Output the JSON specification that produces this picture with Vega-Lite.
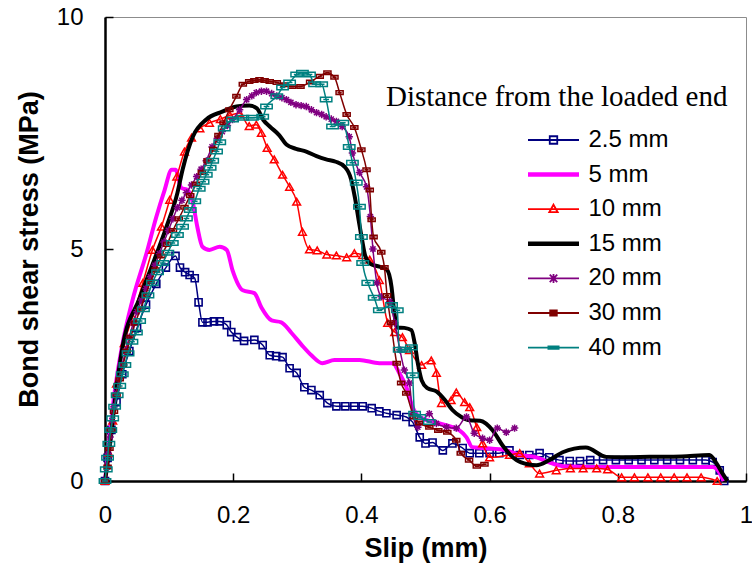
{
"$schema": "https://vega.github.io/schema/vega-lite/v6.json",
"width": 641, "height": 464,
"autosize": {"type": "none"},
"padding": {"left": 105, "top": 17, "right": 6, "bottom": 88},
"background": "white",
"config": {"view": {"stroke": "#8c8c8c", "strokeWidth": 1}, "font": "Liberation Sans"},
"datasets": {
"d": [
{"s":"2.5 mm","x":0,"y":0},{"s":"2.5 mm","x":0.004,"y":0.5},{"s":"2.5 mm","x":0.01,"y":1.1},{"s":"2.5 mm","x":0.018,"y":1.7},{"s":"2.5 mm","x":0.027,"y":2.3},{"s":"2.5 mm","x":0.038,"y":2.8},{"s":"2.5 mm","x":0.05,"y":3.3},{"s":"2.5 mm","x":0.064,"y":3.8},{"s":"2.5 mm","x":0.08,"y":4.25},{"s":"2.5 mm","x":0.095,"y":4.6},{"s":"2.5 mm","x":0.11,"y":4.85},{"s":"2.5 mm","x":0.117,"y":4.6},{"s":"2.5 mm","x":0.125,"y":4.5},{"s":"2.5 mm","x":0.132,"y":4.44},{"s":"2.5 mm","x":0.14,"y":4.37},{"s":"2.5 mm","x":0.146,"y":3.85},{"s":"2.5 mm","x":0.152,"y":3.42},{"s":"2.5 mm","x":0.16,"y":3.42},{"s":"2.5 mm","x":0.17,"y":3.44},{"s":"2.5 mm","x":0.179,"y":3.44},{"s":"2.5 mm","x":0.19,"y":3.36},{"s":"2.5 mm","x":0.197,"y":3.21},{"s":"2.5 mm","x":0.206,"y":3.1},{"s":"2.5 mm","x":0.217,"y":3.02},{"s":"2.5 mm","x":0.233,"y":3.04},{"s":"2.5 mm","x":0.246,"y":2.93},{"s":"2.5 mm","x":0.257,"y":2.71},{"s":"2.5 mm","x":0.267,"y":2.69},{"s":"2.5 mm","x":0.277,"y":2.67},{"s":"2.5 mm","x":0.288,"y":2.43},{"s":"2.5 mm","x":0.299,"y":2.33},{"s":"2.5 mm","x":0.311,"y":2.02},{"s":"2.5 mm","x":0.322,"y":1.96},{"s":"2.5 mm","x":0.335,"y":1.85},{"s":"2.5 mm","x":0.347,"y":1.68},{"s":"2.5 mm","x":0.361,"y":1.61},{"s":"2.5 mm","x":0.375,"y":1.61},{"s":"2.5 mm","x":0.389,"y":1.61},{"s":"2.5 mm","x":0.402,"y":1.61},{"s":"2.5 mm","x":0.416,"y":1.57},{"s":"2.5 mm","x":0.428,"y":1.5},{"s":"2.5 mm","x":0.439,"y":1.46},{"s":"2.5 mm","x":0.455,"y":1.42},{"s":"2.5 mm","x":0.47,"y":1.38},{"s":"2.5 mm","x":0.48,"y":1.27},{"s":"2.5 mm","x":0.491,"y":0.94},{"s":"2.5 mm","x":0.5,"y":0.81},{"s":"2.5 mm","x":0.511,"y":0.83},{"s":"2.5 mm","x":0.527,"y":0.66},{"s":"2.5 mm","x":0.542,"y":0.81},{"s":"2.5 mm","x":0.558,"y":0.71},{"s":"2.5 mm","x":0.569,"y":0.6},{"s":"2.5 mm","x":0.584,"y":0.6},{"s":"2.5 mm","x":0.6,"y":0.6},{"s":"2.5 mm","x":0.615,"y":0.6},{"s":"2.5 mm","x":0.631,"y":0.66},{"s":"2.5 mm","x":0.647,"y":0.56},{"s":"2.5 mm","x":0.662,"y":0.56},{"s":"2.5 mm","x":0.678,"y":0.6},{"s":"2.5 mm","x":0.693,"y":0.51},{"s":"2.5 mm","x":0.709,"y":0.45},{"s":"2.5 mm","x":0.725,"y":0.43},{"s":"2.5 mm","x":0.741,"y":0.43},{"s":"2.5 mm","x":0.757,"y":0.45},{"s":"2.5 mm","x":0.777,"y":0.45},{"s":"2.5 mm","x":0.797,"y":0.45},{"s":"2.5 mm","x":0.817,"y":0.45},{"s":"2.5 mm","x":0.837,"y":0.45},{"s":"2.5 mm","x":0.857,"y":0.45},{"s":"2.5 mm","x":0.877,"y":0.45},{"s":"2.5 mm","x":0.897,"y":0.45},{"s":"2.5 mm","x":0.917,"y":0.45},{"s":"2.5 mm","x":0.937,"y":0.45},{"s":"2.5 mm","x":0.948,"y":0.41},{"s":"2.5 mm","x":0.959,"y":0.23},{"s":"2.5 mm","x":0.966,"y":0},

{"s":"5 mm","x":0,"y":0},{"s":"5 mm","x":0.006,"y":0.8},{"s":"5 mm","x":0.014,"y":1.8},{"s":"5 mm","x":0.026,"y":2.86},{"s":"5 mm","x":0.043,"y":3.9},{"s":"5 mm","x":0.065,"y":4.92},{"s":"5 mm","x":0.08,"y":5.69},{"s":"5 mm","x":0.093,"y":6.27},{"s":"5 mm","x":0.104,"y":6.71},{"s":"5 mm","x":0.11,"y":6.71},{"s":"5 mm","x":0.119,"y":6.32},{"s":"5 mm","x":0.129,"y":6.27},{"s":"5 mm","x":0.137,"y":6.0},{"s":"5 mm","x":0.144,"y":5.48},{"s":"5 mm","x":0.152,"y":5.05},{"s":"5 mm","x":0.163,"y":4.98},{"s":"5 mm","x":0.179,"y":5.05},{"s":"5 mm","x":0.19,"y":4.98},{"s":"5 mm","x":0.199,"y":4.54},{"s":"5 mm","x":0.215,"y":4.11},{"s":"5 mm","x":0.233,"y":4.05},{"s":"5 mm","x":0.244,"y":3.74},{"s":"5 mm","x":0.26,"y":3.46},{"s":"5 mm","x":0.275,"y":3.42},{"s":"5 mm","x":0.291,"y":3.19},{"s":"5 mm","x":0.307,"y":2.93},{"s":"5 mm","x":0.322,"y":2.71},{"s":"5 mm","x":0.339,"y":2.54},{"s":"5 mm","x":0.358,"y":2.61},{"s":"5 mm","x":0.397,"y":2.61},{"s":"5 mm","x":0.428,"y":2.54},{"s":"5 mm","x":0.449,"y":2.54},{"s":"5 mm","x":0.459,"y":2.33},{"s":"5 mm","x":0.47,"y":2.03},{"s":"5 mm","x":0.48,"y":1.59},{"s":"5 mm","x":0.491,"y":1.38},{"s":"5 mm","x":0.522,"y":1.24},{"s":"5 mm","x":0.553,"y":1.09},{"s":"5 mm","x":0.564,"y":0.94},{"s":"5 mm","x":0.573,"y":0.73},{"s":"5 mm","x":0.589,"y":0.71},{"s":"5 mm","x":0.626,"y":0.66},{"s":"5 mm","x":0.647,"y":0.56},{"s":"5 mm","x":0.673,"y":0.51},{"s":"5 mm","x":0.693,"y":0.4},{"s":"5 mm","x":0.714,"y":0.32},{"s":"5 mm","x":0.8,"y":0.3},{"s":"5 mm","x":0.9,"y":0.3},{"s":"5 mm","x":0.948,"y":0.3},{"s":"5 mm","x":0.959,"y":0.17},{"s":"5 mm","x":0.965,"y":0},

{"s":"10 mm","x":0,"y":0},{"s":"10 mm","x":0.006,"y":0.6},{"s":"10 mm","x":0.012,"y":1.3},{"s":"10 mm","x":0.018,"y":2.1},{"s":"10 mm","x":0.03,"y":2.97},{"s":"10 mm","x":0.043,"y":3.53},{"s":"10 mm","x":0.059,"y":4.27},{"s":"10 mm","x":0.074,"y":4.98},{"s":"10 mm","x":0.088,"y":5.48},{"s":"10 mm","x":0.101,"y":6.06},{"s":"10 mm","x":0.112,"y":6.56},{"s":"10 mm","x":0.124,"y":7.1},{"s":"10 mm","x":0.135,"y":7.4},{"s":"10 mm","x":0.148,"y":7.6},{"s":"10 mm","x":0.163,"y":7.72},{"s":"10 mm","x":0.18,"y":7.8},{"s":"10 mm","x":0.195,"y":7.88},{"s":"10 mm","x":0.21,"y":7.93},{"s":"10 mm","x":0.225,"y":7.65},{"s":"10 mm","x":0.236,"y":7.68},{"s":"10 mm","x":0.244,"y":7.5},{"s":"10 mm","x":0.253,"y":7.18},{"s":"10 mm","x":0.264,"y":6.93},{"s":"10 mm","x":0.277,"y":6.6},{"s":"10 mm","x":0.288,"y":6.34},{"s":"10 mm","x":0.299,"y":6.02},{"s":"10 mm","x":0.308,"y":5.37},{"s":"10 mm","x":0.319,"y":4.99},{"s":"10 mm","x":0.331,"y":4.97},{"s":"10 mm","x":0.346,"y":4.88},{"s":"10 mm","x":0.361,"y":4.86},{"s":"10 mm","x":0.377,"y":4.82},{"s":"10 mm","x":0.389,"y":4.91},{"s":"10 mm","x":0.402,"y":4.87},{"s":"10 mm","x":0.413,"y":4.77},{"s":"10 mm","x":0.428,"y":4.33},{"s":"10 mm","x":0.441,"y":3.41},{"s":"10 mm","x":0.452,"y":3.21},{"s":"10 mm","x":0.464,"y":3.1},{"s":"10 mm","x":0.475,"y":2.82},{"s":"10 mm","x":0.494,"y":2.5},{"s":"10 mm","x":0.509,"y":2.6},{"s":"10 mm","x":0.517,"y":2.33},{"s":"10 mm","x":0.525,"y":1.68},{"s":"10 mm","x":0.54,"y":1.74},{"s":"10 mm","x":0.548,"y":1.91},{"s":"10 mm","x":0.561,"y":1.7},{"s":"10 mm","x":0.569,"y":1.59},{"s":"10 mm","x":0.58,"y":1.16},{"s":"10 mm","x":0.589,"y":0.81},{"s":"10 mm","x":0.6,"y":0.51},{"s":"10 mm","x":0.631,"y":0.56},{"s":"10 mm","x":0.647,"y":0.6},{"s":"10 mm","x":0.662,"y":0.38},{"s":"10 mm","x":0.678,"y":0.16},{"s":"10 mm","x":0.704,"y":0.23},{"s":"10 mm","x":0.726,"y":0.27},{"s":"10 mm","x":0.746,"y":0.27},{"s":"10 mm","x":0.767,"y":0.27},{"s":"10 mm","x":0.784,"y":0.25},{"s":"10 mm","x":0.806,"y":0.08},{"s":"10 mm","x":0.826,"y":0.08},{"s":"10 mm","x":0.847,"y":0.08},{"s":"10 mm","x":0.867,"y":0.08},{"s":"10 mm","x":0.888,"y":0.08},{"s":"10 mm","x":0.908,"y":0.08},{"s":"10 mm","x":0.93,"y":0.08},{"s":"10 mm","x":0.955,"y":0},

{"s":"15 mm","x":0,"y":0},{"s":"15 mm","x":0.008,"y":0.8},{"s":"15 mm","x":0.016,"y":1.8},{"s":"15 mm","x":0.027,"y":2.86},{"s":"15 mm","x":0.054,"y":3.94},{"s":"15 mm","x":0.077,"y":4.77},{"s":"15 mm","x":0.096,"y":5.48},{"s":"15 mm","x":0.113,"y":6.21},{"s":"15 mm","x":0.121,"y":6.71},{"s":"15 mm","x":0.137,"y":7.42},{"s":"15 mm","x":0.158,"y":7.79},{"s":"15 mm","x":0.183,"y":7.96},{"s":"15 mm","x":0.205,"y":8.07},{"s":"15 mm","x":0.225,"y":8.09},{"s":"15 mm","x":0.237,"y":8.03},{"s":"15 mm","x":0.247,"y":7.78},{"s":"15 mm","x":0.257,"y":7.64},{"s":"15 mm","x":0.272,"y":7.45},{"s":"15 mm","x":0.283,"y":7.25},{"s":"15 mm","x":0.298,"y":7.16},{"s":"15 mm","x":0.314,"y":7.1},{"s":"15 mm","x":0.33,"y":7.0},{"s":"15 mm","x":0.345,"y":6.93},{"s":"15 mm","x":0.36,"y":6.88},{"s":"15 mm","x":0.374,"y":6.77},{"s":"15 mm","x":0.384,"y":6.5},{"s":"15 mm","x":0.39,"y":6.1},{"s":"15 mm","x":0.396,"y":5.6},{"s":"15 mm","x":0.401,"y":5.2},{"s":"15 mm","x":0.406,"y":4.85},{"s":"15 mm","x":0.414,"y":4.68},{"s":"15 mm","x":0.428,"y":4.62},{"s":"15 mm","x":0.44,"y":4.55},{"s":"15 mm","x":0.447,"y":4.18},{"s":"15 mm","x":0.451,"y":3.67},{"s":"15 mm","x":0.456,"y":3.31},{"s":"15 mm","x":0.467,"y":3.3},{"s":"15 mm","x":0.478,"y":3.25},{"s":"15 mm","x":0.483,"y":2.98},{"s":"15 mm","x":0.488,"y":2.54},{"s":"15 mm","x":0.494,"y":2.17},{"s":"15 mm","x":0.503,"y":2.0},{"s":"15 mm","x":0.517,"y":1.93},{"s":"15 mm","x":0.53,"y":1.75},{"s":"15 mm","x":0.542,"y":1.53},{"s":"15 mm","x":0.556,"y":1.38},{"s":"15 mm","x":0.569,"y":1.31},{"s":"15 mm","x":0.585,"y":1.3},{"s":"15 mm","x":0.605,"y":1.09},{"s":"15 mm","x":0.62,"y":0.77},{"s":"15 mm","x":0.642,"y":0.45},{"s":"15 mm","x":0.66,"y":0.36},{"s":"15 mm","x":0.673,"y":0.34},{"s":"15 mm","x":0.693,"y":0.45},{"s":"15 mm","x":0.714,"y":0.62},{"s":"15 mm","x":0.75,"y":0.72},{"s":"15 mm","x":0.782,"y":0.52},{"s":"15 mm","x":0.807,"y":0.51},{"s":"15 mm","x":0.85,"y":0.52},{"s":"15 mm","x":0.9,"y":0.53},{"s":"15 mm","x":0.943,"y":0.56},{"s":"15 mm","x":0.954,"y":0.38},{"s":"15 mm","x":0.963,"y":0.17},{"s":"15 mm","x":0.971,"y":0},

{"s":"20 mm","x":0,"y":0},{"s":"20 mm","x":0.003,"y":0.3},{"s":"20 mm","x":0.005,"y":0.6},{"s":"20 mm","x":0.008,"y":0.95},{"s":"20 mm","x":0.011,"y":1.3},{"s":"20 mm","x":0.014,"y":1.6},{"s":"20 mm","x":0.018,"y":1.9},{"s":"20 mm","x":0.022,"y":2.2},{"s":"20 mm","x":0.027,"y":2.5},{"s":"20 mm","x":0.032,"y":2.8},{"s":"20 mm","x":0.038,"y":3.1},{"s":"20 mm","x":0.044,"y":3.4},{"s":"20 mm","x":0.05,"y":3.65},{"s":"20 mm","x":0.057,"y":3.9},{"s":"20 mm","x":0.064,"y":4.15},{"s":"20 mm","x":0.071,"y":4.4},{"s":"20 mm","x":0.078,"y":4.65},{"s":"20 mm","x":0.085,"y":4.9},{"s":"20 mm","x":0.092,"y":5.15},{"s":"20 mm","x":0.099,"y":5.4},{"s":"20 mm","x":0.106,"y":5.65},{"s":"20 mm","x":0.113,"y":5.89},{"s":"20 mm","x":0.12,"y":6.05},{"s":"20 mm","x":0.127,"y":6.21},{"s":"20 mm","x":0.135,"y":6.38},{"s":"20 mm","x":0.143,"y":6.56},{"s":"20 mm","x":0.15,"y":6.72},{"s":"20 mm","x":0.158,"y":6.9},{"s":"20 mm","x":0.167,"y":7.2},{"s":"20 mm","x":0.175,"y":7.38},{"s":"20 mm","x":0.183,"y":7.53},{"s":"20 mm","x":0.191,"y":7.66},{"s":"20 mm","x":0.199,"y":7.79},{"s":"20 mm","x":0.21,"y":8.0},{"s":"20 mm","x":0.221,"y":8.22},{"s":"20 mm","x":0.229,"y":8.3},{"s":"20 mm","x":0.236,"y":8.37},{"s":"20 mm","x":0.244,"y":8.4},{"s":"20 mm","x":0.252,"y":8.4},{"s":"20 mm","x":0.26,"y":8.35},{"s":"20 mm","x":0.268,"y":8.3},{"s":"20 mm","x":0.276,"y":8.26},{"s":"20 mm","x":0.283,"y":8.22},{"s":"20 mm","x":0.29,"y":8.16},{"s":"20 mm","x":0.298,"y":8.11},{"s":"20 mm","x":0.306,"y":8.09},{"s":"20 mm","x":0.314,"y":8.07},{"s":"20 mm","x":0.322,"y":8.0},{"s":"20 mm","x":0.33,"y":7.94},{"s":"20 mm","x":0.338,"y":7.9},{"s":"20 mm","x":0.345,"y":7.85},{"s":"20 mm","x":0.353,"y":7.8},{"s":"20 mm","x":0.361,"y":7.75},{"s":"20 mm","x":0.37,"y":7.64},{"s":"20 mm","x":0.381,"y":7.42},{"s":"20 mm","x":0.386,"y":7.07},{"s":"20 mm","x":0.397,"y":6.65},{"s":"20 mm","x":0.408,"y":6.34},{"s":"20 mm","x":0.414,"y":5.7},{"s":"20 mm","x":0.418,"y":5.0},{"s":"20 mm","x":0.424,"y":4.27},{"s":"20 mm","x":0.431,"y":3.97},{"s":"20 mm","x":0.444,"y":3.87},{"s":"20 mm","x":0.452,"y":3.41},{"s":"20 mm","x":0.46,"y":2.83},{"s":"20 mm","x":0.467,"y":2.39},{"s":"20 mm","x":0.475,"y":2.11},{"s":"20 mm","x":0.48,"y":1.45},{"s":"20 mm","x":0.488,"y":1.16},{"s":"20 mm","x":0.506,"y":1.45},{"s":"20 mm","x":0.517,"y":1.24},{"s":"20 mm","x":0.533,"y":1.16},{"s":"20 mm","x":0.548,"y":1.14},{"s":"20 mm","x":0.564,"y":1.38},{"s":"20 mm","x":0.576,"y":1.03},{"s":"20 mm","x":0.589,"y":0.92},{"s":"20 mm","x":0.6,"y":0.88},{"s":"20 mm","x":0.612,"y":1.14},{"s":"20 mm","x":0.626,"y":1.05},{"s":"20 mm","x":0.639,"y":1.14},

{"s":"30 mm","x":0,"y":0},{"s":"30 mm","x":0.004,"y":0.3},{"s":"30 mm","x":0.007,"y":0.7},{"s":"30 mm","x":0.01,"y":1.1},{"s":"30 mm","x":0.014,"y":1.5},{"s":"30 mm","x":0.018,"y":1.85},{"s":"30 mm","x":0.023,"y":2.2},{"s":"30 mm","x":0.028,"y":2.5},{"s":"30 mm","x":0.034,"y":2.8},{"s":"30 mm","x":0.04,"y":3.1},{"s":"30 mm","x":0.047,"y":3.4},{"s":"30 mm","x":0.055,"y":3.7},{"s":"30 mm","x":0.063,"y":4.0},{"s":"30 mm","x":0.071,"y":4.3},{"s":"30 mm","x":0.079,"y":4.55},{"s":"30 mm","x":0.088,"y":4.85},{"s":"30 mm","x":0.097,"y":5.1},{"s":"30 mm","x":0.106,"y":5.4},{"s":"30 mm","x":0.115,"y":5.65},{"s":"30 mm","x":0.124,"y":5.9},{"s":"30 mm","x":0.133,"y":6.15},{"s":"30 mm","x":0.142,"y":6.4},{"s":"30 mm","x":0.151,"y":6.65},{"s":"30 mm","x":0.16,"y":6.9},{"s":"30 mm","x":0.169,"y":7.15},{"s":"30 mm","x":0.177,"y":7.45},{"s":"30 mm","x":0.185,"y":7.72},{"s":"30 mm","x":0.194,"y":8.0},{"s":"30 mm","x":0.205,"y":8.29},{"s":"30 mm","x":0.215,"y":8.55},{"s":"30 mm","x":0.225,"y":8.61},{"s":"30 mm","x":0.233,"y":8.63},{"s":"30 mm","x":0.241,"y":8.65},{"s":"30 mm","x":0.249,"y":8.63},{"s":"30 mm","x":0.257,"y":8.61},{"s":"30 mm","x":0.268,"y":8.59},{"s":"30 mm","x":0.28,"y":8.54},{"s":"30 mm","x":0.292,"y":8.5},{"s":"30 mm","x":0.305,"y":8.5},{"s":"30 mm","x":0.32,"y":8.6},{"s":"30 mm","x":0.335,"y":8.72},{"s":"30 mm","x":0.347,"y":8.8},{"s":"30 mm","x":0.358,"y":8.7},{"s":"30 mm","x":0.366,"y":8.37},{"s":"30 mm","x":0.377,"y":7.9},{"s":"30 mm","x":0.389,"y":7.62},{"s":"30 mm","x":0.4,"y":7.14},{"s":"30 mm","x":0.408,"y":6.71},{"s":"30 mm","x":0.413,"y":6.27},{"s":"30 mm","x":0.416,"y":5.63},{"s":"30 mm","x":0.419,"y":5.26},{"s":"30 mm","x":0.431,"y":4.93},{"s":"30 mm","x":0.436,"y":4.6},{"s":"30 mm","x":0.44,"y":4.0},{"s":"30 mm","x":0.446,"y":3.41},{"s":"30 mm","x":0.455,"y":2.54},{"s":"30 mm","x":0.462,"y":2.11},{"s":"30 mm","x":0.47,"y":1.89},{"s":"30 mm","x":0.482,"y":1.38},{"s":"30 mm","x":0.49,"y":1.25},{"s":"30 mm","x":0.506,"y":1.16},{"s":"30 mm","x":0.52,"y":1.09},{"s":"30 mm","x":0.534,"y":1.05},{"s":"30 mm","x":0.548,"y":0.88},{"s":"30 mm","x":0.555,"y":0.6},{"s":"30 mm","x":0.568,"y":0.45},{"s":"30 mm","x":0.58,"y":0.32},{"s":"30 mm","x":0.592,"y":0.36},

{"s":"40 mm","x":0,"y":0},{"s":"40 mm","x":0.002,"y":0.25},{"s":"40 mm","x":0.004,"y":0.5},{"s":"40 mm","x":0.006,"y":0.8},{"s":"40 mm","x":0.009,"y":1.1},{"s":"40 mm","x":0.012,"y":1.35},{"s":"40 mm","x":0.015,"y":1.6},{"s":"40 mm","x":0.019,"y":1.85},{"s":"40 mm","x":0.023,"y":2.05},{"s":"40 mm","x":0.027,"y":2.3},{"s":"40 mm","x":0.031,"y":2.5},{"s":"40 mm","x":0.036,"y":2.75},{"s":"40 mm","x":0.042,"y":3.0},{"s":"40 mm","x":0.049,"y":3.2},{"s":"40 mm","x":0.054,"y":3.45},{"s":"40 mm","x":0.06,"y":3.7},{"s":"40 mm","x":0.067,"y":4.0},{"s":"40 mm","x":0.074,"y":4.27},{"s":"40 mm","x":0.082,"y":4.5},{"s":"40 mm","x":0.09,"y":4.7},{"s":"40 mm","x":0.098,"y":4.92},{"s":"40 mm","x":0.105,"y":5.13},{"s":"40 mm","x":0.113,"y":5.3},{"s":"40 mm","x":0.121,"y":5.48},{"s":"40 mm","x":0.127,"y":5.66},{"s":"40 mm","x":0.133,"y":5.84},{"s":"40 mm","x":0.14,"y":6.03},{"s":"40 mm","x":0.147,"y":6.3},{"s":"40 mm","x":0.153,"y":6.45},{"s":"40 mm","x":0.158,"y":6.6},{"s":"40 mm","x":0.164,"y":6.75},{"s":"40 mm","x":0.168,"y":6.9},{"s":"40 mm","x":0.174,"y":7.1},{"s":"40 mm","x":0.179,"y":7.3},{"s":"40 mm","x":0.186,"y":7.6},{"s":"40 mm","x":0.199,"y":7.79},{"s":"40 mm","x":0.215,"y":7.83},{"s":"40 mm","x":0.23,"y":7.83},{"s":"40 mm","x":0.246,"y":7.85},{"s":"40 mm","x":0.252,"y":8.07},{"s":"40 mm","x":0.268,"y":8.29},{"s":"40 mm","x":0.277,"y":8.48},{"s":"40 mm","x":0.288,"y":8.59},{"s":"40 mm","x":0.299,"y":8.76},{"s":"40 mm","x":0.308,"y":8.8},{"s":"40 mm","x":0.319,"y":8.76},{"s":"40 mm","x":0.327,"y":8.55},{"s":"40 mm","x":0.338,"y":8.55},{"s":"40 mm","x":0.345,"y":8.22},{"s":"40 mm","x":0.355,"y":7.64},{"s":"40 mm","x":0.371,"y":7.72},{"s":"40 mm","x":0.381,"y":7.2},{"s":"40 mm","x":0.386,"y":6.86},{"s":"40 mm","x":0.392,"y":6.43},{"s":"40 mm","x":0.397,"y":5.91},{"s":"40 mm","x":0.4,"y":5.26},{"s":"40 mm","x":0.402,"y":4.7},{"s":"40 mm","x":0.41,"y":4.27},{"s":"40 mm","x":0.42,"y":3.95},{"s":"40 mm","x":0.428,"y":3.68},{"s":"40 mm","x":0.447,"y":3.79},{"s":"40 mm","x":0.456,"y":3.68},{"s":"40 mm","x":0.459,"y":2.83},{"s":"40 mm","x":0.467,"y":2.83},{"s":"40 mm","x":0.478,"y":2.88},{"s":"40 mm","x":0.48,"y":2.28},{"s":"40 mm","x":0.483,"y":1.45},{"s":"40 mm","x":0.491,"y":1.38},{"s":"40 mm","x":0.506,"y":1.27}
]
},
"data": {"name": "d"},
"encoding": {
  "x": {"field": "x", "type": "quantitative", "scale": {"domain": [0, 1], "nice": false, "zero": false},
        "axis": {"title": "Slip (mm)", "values": [0, 0.2, 0.4, 0.6, 0.8, 1], "format": "~g", "grid": false,
                 "domainColor": "black", "domainWidth": 2.5, "tickColor": "black", "tickWidth": 1.5, "tickSize": -8,
                 "labelFont": "Liberation Sans", "labelFontSize": 24, "labelColor": "black", "labelPadding": 30,
                 "labelFlush": false, "labelOverlap": false,
                 "titleFont": "Liberation Sans", "titleFontSize": 27, "titleFontWeight": "bold", "titleColor": "black", "titlePadding": 8}},
  "y": {"field": "y", "type": "quantitative", "scale": {"domain": [0, 10], "nice": false, "zero": false},
        "axis": {"title": "Bond shear stress (MPa)", "values": [0, 5, 10], "grid": false,
                 "domainColor": "black", "domainWidth": 2.5, "tickColor": "black", "tickWidth": 1.5, "tickSize": -8,
                 "labelFont": "Liberation Sans", "labelFontSize": 24, "labelColor": "black", "labelPadding": 30,
                 "labelFlush": false, "labelOverlap": false,
                 "titleFont": "Liberation Sans", "titleFontSize": 27, "titleFontWeight": "bold", "titleColor": "black", "titlePadding": 13}},
  "color": {"field": "s", "type": "nominal",
            "scale": {"domain": ["2.5 mm", "5 mm", "10 mm", "15 mm", "20 mm", "30 mm", "40 mm"],
                      "range": ["#000080", "#FF00FF", "#FF0000", "#000000", "#800080", "#800000", "#008080"]},
            "legend": {"orient": "none", "legendX": 281, "legendY": 66, "padding": 0,
                       "title": "Distance from the loaded end", "titleFont": "Liberation Serif", "titleFontSize": 29,
                       "titleFontWeight": "normal", "titleColor": "black", "titlePadding": 16, "titleLimit": 1000,
                       "labelFont": "Liberation Sans", "labelFontSize": 24, "labelColor": "black", "labelLimit": 300,
                       "symbolSize": 900, "symbolOffset": 155.5, "labelOffset": 23, "rowPadding": 10.6,
                       "encode": {"symbols": {"update": {
                         "shape": {"signal": "datum.value === '2.5 mm' ? 'M-1.7,0H1.7M-0.25,-0.25H0.25V0.25H-0.25Z' : datum.value === '10 mm' ? 'M-1.7,0H1.7M0,-0.3L0.28,0.2H-0.28Z' : datum.value === '20 mm' ? 'M-1.7,0H1.7M-0.25,-0.25L0.25,0.25M-0.25,0.25L0.25,-0.25M0,-0.3V0.3' : datum.value === '30 mm' ? 'M-1.7,0H1.7M-0.22,-0.17H0.22V0.17H-0.22ZM-0.22,-0.06H0.22M-0.22,0.06H0.22' : datum.value === '40 mm' ? 'M-1.7,0H1.7M-0.4,-0.08H0.4M-0.4,0.08H0.4' : 'M-1.7,0H1.7'"},
                         "strokeWidth": {"signal": "datum.value === '5 mm' || datum.value === '15 mm' ? 4.5 : 1.8"},
                         "fill": {"value": "transparent"},
                         "stroke": {"scale": "color", "field": "value"},
                         "opacity": {"value": 1}}}}}}
},
"layer": [
  {"transform": [{"filter": "datum.s === '2.5 mm'"}], "mark": {"type": "line", "strokeWidth": 1.5, "interpolate": "monotone"}},
  {"transform": [{"filter": "datum.s === '2.5 mm'"}], "mark": {"type": "point", "shape": "square", "size": 50, "filled": false, "strokeWidth": 1.6, "opacity": 1}},
  {"transform": [{"filter": "datum.s === '5 mm'"}], "mark": {"type": "line", "strokeWidth": 4, "interpolate": "monotone"}},
  {"transform": [{"filter": "datum.s === '10 mm'"}], "mark": {"type": "line", "strokeWidth": 1.5, "interpolate": "monotone"}},
  {"transform": [{"filter": "datum.s === '10 mm'"}], "mark": {"type": "point", "shape": "triangle-up", "size": 60, "filled": false, "strokeWidth": 1.5, "opacity": 1}},
  {"transform": [{"filter": "datum.s === '15 mm'"}], "mark": {"type": "line", "strokeWidth": 4, "interpolate": "monotone"}},
  {"transform": [{"filter": "datum.s === '20 mm'"}], "mark": {"type": "line", "strokeWidth": 1.5, "interpolate": "monotone"}},
  {"transform": [{"filter": "datum.s === '20 mm'"}], "mark": {"type": "point", "shape": "M-1,0H1M0,-1V1M-0.7,-0.7L0.7,0.7M-0.7,0.7L0.7,-0.7", "size": 55, "filled": false, "strokeWidth": 1.5, "opacity": 1}},
  {"transform": [{"filter": "datum.s === '30 mm'"}], "mark": {"type": "line", "strokeWidth": 1.5, "interpolate": "monotone"}},
  {"transform": [{"filter": "datum.s === '30 mm'"}], "mark": {"type": "point", "shape": "M-1,-0.5H1V0.5H-1ZM-0.6,0H0.6", "size": 50, "filled": false, "strokeWidth": 1.5, "opacity": 1}},
  {"transform": [{"filter": "datum.s === '40 mm'"}], "mark": {"type": "line", "strokeWidth": 1.5, "interpolate": "monotone"}},
  {"transform": [{"filter": "datum.s === '40 mm'"}], "mark": {"type": "point", "shape": "M-1,-0.4H1V0.4H-1ZM-0.5,0H0.5", "size": 130, "filled": false, "strokeWidth": 1.5, "opacity": 1}}
]
}
